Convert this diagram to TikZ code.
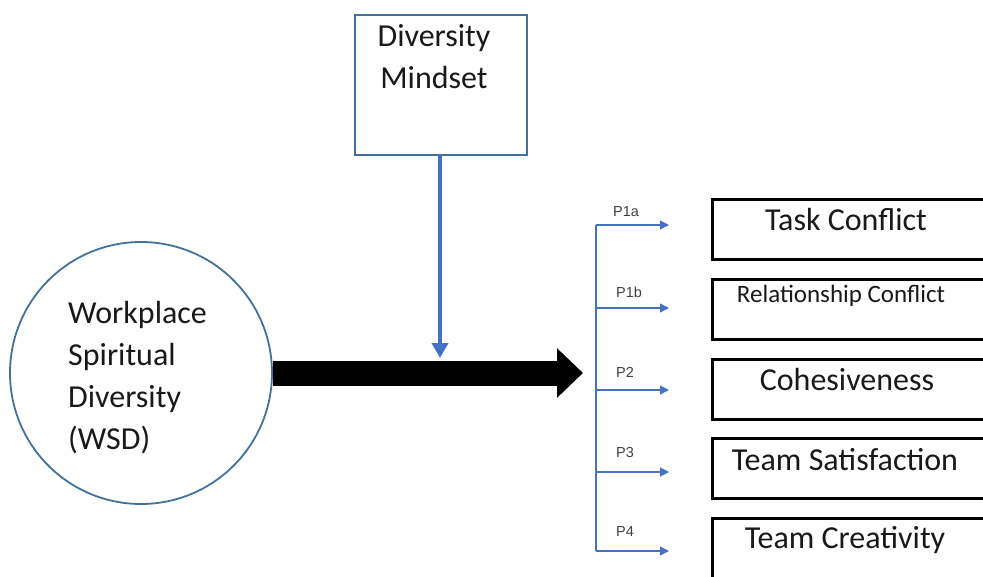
\documentclass[tikz,border=0pt]{standalone}
\usepackage{fontspec}
\setmainfont{Carlito}
\newfontfamily\arialf{Liberation Sans}
\usetikzlibrary{arrows.meta}
\definecolor{cblue}{HTML}{4472C4}
\definecolor{cedge}{HTML}{41719C}
\definecolor{ptext}{HTML}{404040}
\begin{document}
\begin{tikzpicture}[x=1pt,y=-1pt,
  bigtxt/.style={font=\fontsize{32}{42}\selectfont, text=black!90},
  outbox/.style={draw=black, line width=3pt, minimum width=278pt, minimum height=60pt, inner sep=0pt},
  outtxt/.style={font=\fontsize{32}{36}\selectfont, text=black!90, inner sep=0pt},
  plabel/.style={font=\arialf\fontsize{14.5}{16}\selectfont, text=ptext, inner sep=0pt},
  branch/.style={draw=cblue, line width=1.2pt, -{Triangle[width=9pt,length=9pt]}},
]
\useasboundingbox (0,0) rectangle (983,576);
\clip (0,0) rectangle (983,576);
% circle
\node[draw=cedge, line width=1.8pt, circle, minimum size=262pt, inner sep=0pt] (wsd) at (141,373) {};
\node[bigtxt, align=left, anchor=west, inner sep=0pt] (wsdt) at (68,378) {Workplace\\Spiritual\\Diversity\\(WSD)};
% mindset box
\node[draw=cedge, line width=2.5pt, minimum width=172pt, minimum height=140pt, inner sep=0pt] (dm) at (441,85) {};
\node[bigtxt, align=center, inner sep=0pt] (dmt) at (434,57) {Diversity\\Mindset};
% big arrow
\coordinate (bigtip) at (583,373);
\draw[line width=25pt, -{Triangle[width=48pt,length=26pt]}] (wsd.east) -- (bigtip);
% vertical moderator arrow
\coordinate (modtip) at (440,358);
\draw[draw=cblue, line width=3.6pt, -{Triangle[width=16pt,length=15pt]}] (dm.south -| modtip) -- (modtip);
% branch line
\coordinate (btop) at (596,225);
\coordinate (bbot) at (596,551);
\draw[cblue, line width=1.2pt] (btop) -- (bbot);
\foreach \y/\n in {225/1,308/2,390/3,472/4,551/5}{
  \coordinate (s\n) at (596,\y);
  \coordinate (e\n) at (669,\y);
  \draw[branch] (s\n) -- (e\n);
}
\node[plabel, anchor=west] (p1a) at (613,212) {P1a};
\node[plabel, anchor=west] (p1b) at (616,292) {P1b};
\node[plabel, anchor=west] (p2) at (616,372) {P2};
\node[plabel, anchor=west] (p3) at (616,453) {P3};
\node[plabel, anchor=west] (p4) at (616,532) {P4};
% outcome boxes
\node[outbox] (b1) at (851,229) {};
\node[outbox] (b2) at (851,309) {};
\node[outbox] (b3) at (851,389.5) {};
\node[outbox] (b4) at (851,468) {};
\node[outbox] (b5) at (851,548) {};
\node[outtxt] (t1) at (846,220) {Task Conflict};
\node[outtxt, font=\fontsize{25}{28}\selectfont] (t2) at (841,296) {Relationship Conflict};
\node[outtxt] (t3) at (847,380) {Cohesiveness};
\node[outtxt] (t4) at (845,460) {Team Satisfaction};
\node[outtxt] (t5) at (845,540) {Team Creativity};
\end{tikzpicture}
\end{document}
